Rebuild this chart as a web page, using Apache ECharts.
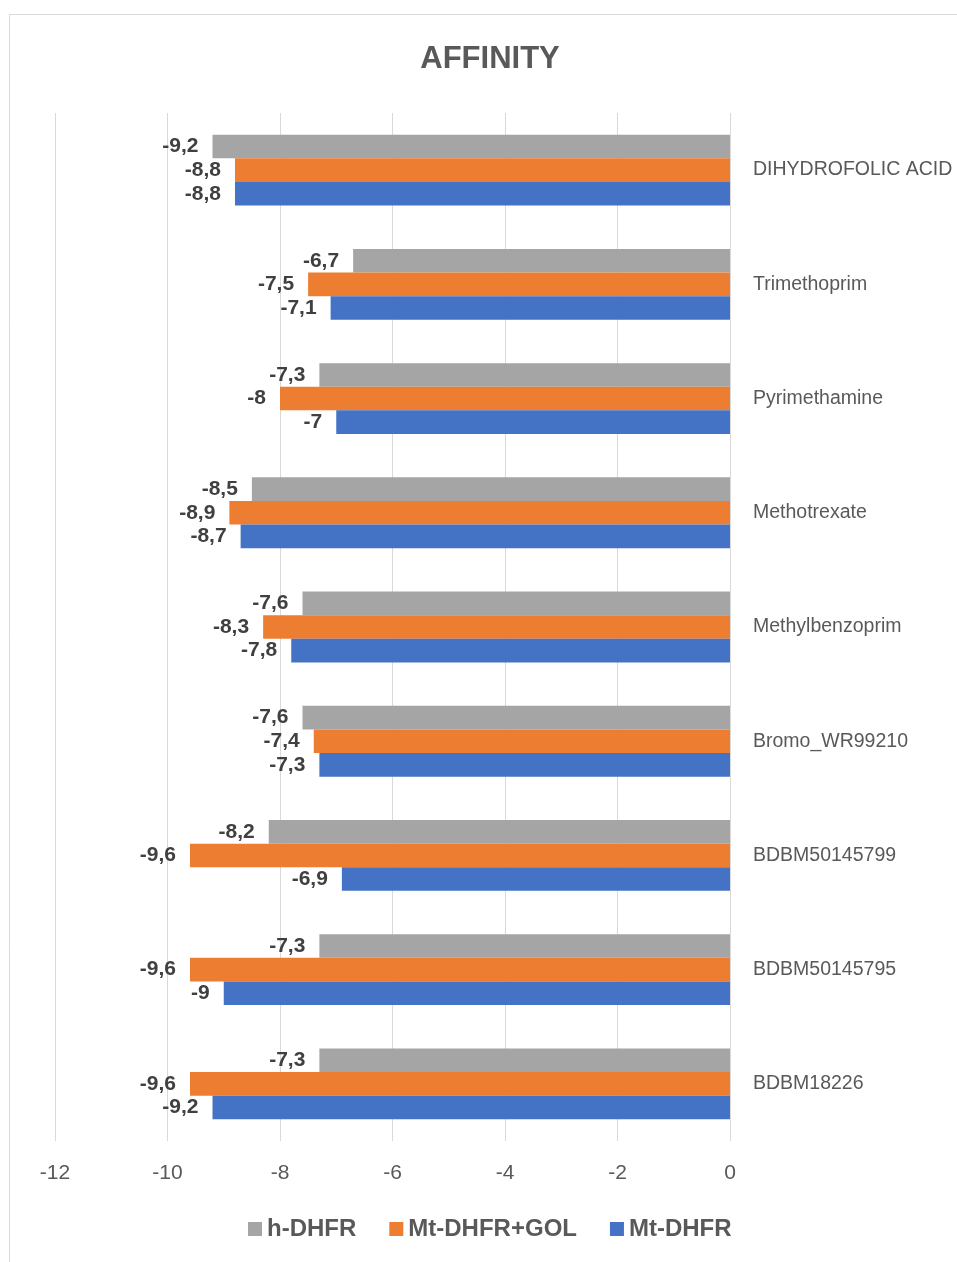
<!DOCTYPE html>
<html>
<head>
<meta charset="utf-8">
<script src="https://cdn.jsdelivr.net/npm/echarts@6/dist/echarts.min.js"></script>
<style>
html,body{margin:0;padding:0;background:#fff;}
#chart{width:957px;height:1262px;}
</style>
</head>
<body>
<div id="chart"></div>
<script>
// categories listed bottom-to-top
var categories = ['BDBM18226','BDBM50145795','BDBM50145799','Bromo_WR99210','Methylbenzoprim','Methotrexate','Pyrimethamine','Trimethoprim','DIHYDROFOLIC ACID'];
var hDHFR     = [-7.3, -7.3, -8.2, -7.6, -7.6, -8.5, -7.3, -6.7, -9.2];
var mtDHFRGOL = [-9.6, -9.6, -9.6, -7.4, -8.3, -8.9, -8.0, -7.5, -8.8];
var mtDHFR    = [-9.2, -9.0, -6.9, -7.3, -7.8, -8.7, -7.0, -7.1, -8.8];
var xTicks = [-12, -10, -8, -6, -4, -2, 0];
var legendNames = ['h-DHFR','Mt-DHFR+GOL','Mt-DHFR'];

var FONT = '"Liberation Sans", Arial, sans-serif';
var chart = echarts.init(document.getElementById('chart'), null, {renderer:'canvas'});

function lbl(){
  return {
    show:true, position:'left', distance:14,
    fontFamily:FONT, fontWeight:'bold', fontSize:21, color:'#404040',
    formatter:function(p){ return String(p.value).replace('.', ','); }
  };
}

var option = {
  backgroundColor:'#fff',
  animation:false,
  graphic:[{type:'rect', shape:{x:9.5, y:14.5, width:1000, height:1300}, style:{fill:'none', stroke:'#d9d9d9', lineWidth:1}, silent:true}],
  title:{
    text:'AFFINITY', top:44, padding:0,
    left:490, textAlign:'center',
    textStyle:{fontFamily:FONT, fontWeight:'bold', fontSize:31, color:'#595959'}
  },
  legend:{
    data:legendNames,
    top:1217, left:248, itemWidth:14, itemHeight:14, itemGap:33,
    icon:'rect', padding:0, width:700,
    textStyle:{fontFamily:FONT, fontWeight:'bold', fontSize:24, color:'#595959', padding:[0,0,0,0]}
  },
  grid:{left:55, right:227, top:113, bottom:121, containLabel:false, outerBoundsMode:'none'},
  xAxis:{
    type:'value', min:-12, max:0, interval:2,
    axisLine:{show:false}, axisTick:{show:false},
    axisLabel:{fontFamily:FONT, fontSize:21, color:'#595959', margin:22,
      formatter:function(v){ return xTicks.indexOf(v) >= 0 ? String(v) : ''; }},
    splitLine:{show:true, lineStyle:{color:'#d9d9d9', width:1}}
  },
  yAxis:{
    type:'category', data:categories, position:'right',
    axisLine:{show:false}, axisTick:{show:false},
    axisLabel:{fontFamily:FONT, fontSize:19.5, color:'#595959', margin:23, align:'left'}
  },
  series:[
    {name:'h-DHFR', type:'bar', data:hDHFR, itemStyle:{color:'#A5A5A5'}, barGap:'0%', barCategoryGap:'38%', label:lbl()},
    {name:'Mt-DHFR+GOL', type:'bar', data:mtDHFRGOL, itemStyle:{color:'#ED7D31'}, barGap:'0%', barCategoryGap:'38%', label:lbl()},
    {name:'Mt-DHFR', type:'bar', data:mtDHFR, itemStyle:{color:'#4472C4'}, barGap:'0%', barCategoryGap:'38%', label:lbl()}
  ]
};
chart.setOption(option);
</script>
</body>
</html>
